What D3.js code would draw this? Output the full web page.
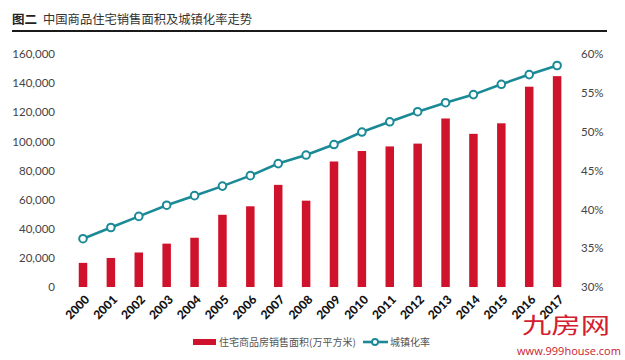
<!DOCTYPE html>
<html>
<head>
<meta charset="utf-8">
<script src="https://cdn.jsdelivr.net/npm/d3@7/dist/d3.min.js"></script>
<style>
  html, body { margin: 0; padding: 0; background: #fff; }
  svg { display: block; }
</style>
</head>
<body>
<svg id="chart" width="625" height="360"></svg>
<script>
const years = ["2000","2001","2002","2003","2004","2005","2006","2007","2008","2009","2010","2011","2012","2013","2014","2015","2016","2017"];
const salesArea = [16570, 19939, 23702, 29779, 33820, 49588, 55423, 70136, 59280, 86185, 93377, 96528, 98468, 115723, 105188, 112412, 137540, 144789];
const urbanRate = [36.22, 37.66, 39.09, 40.53, 41.76, 42.99, 44.34, 45.89, 46.99, 48.34, 49.95, 51.27, 52.57, 53.73, 54.77, 56.10, 57.35, 58.52];
const leftTicks = [0, 20000, 40000, 60000, 80000, 100000, 120000, 140000, 160000];
const rightTicks = [30, 35, 40, 45, 50, 55, 60];
const titleBold = "图二";
const titleText = "中国商品住宅销售面积及城镇化率走势";
const legendBar = "住宅商品房销售面积(万平方米)";
const legendLine = "城镇化率";

const RED = "#d0132c";
const TEAL = "#1a8a96";
const CJK = "'Noto Sans CJK SC', sans-serif";
const LAT = "Lato, 'Noto Sans', sans-serif";

const svg = d3.select("#chart");

// title
svg.append("text").attr("x", 12).attr("y", 24)
  .attr("font-family", CJK).attr("font-size", 12.5).attr("font-weight", 700).attr("fill", "#222")
  .text(titleBold);
svg.append("text").attr("x", 43).attr("y", 24)
  .attr("font-family", CJK).attr("font-size", 12.3).attr("fill", "#333")
  .text(titleText);
svg.append("line").attr("x1", 12).attr("x2", 607).attr("y1", 31).attr("y2", 31)
  .attr("stroke", "#1a1a1a").attr("stroke-width", 2);

// scales
const x = d3.scaleBand().domain(years).range([69.05, 571.05]).padding(0);
const yL = d3.scaleLinear().domain([0, 160000]).range([287, 54]);
const yR = d3.scaleLinear().domain([30, 60]).range([287, 54]);
const cx = d => x(d) + x.bandwidth() / 2;
const barW = 8.5;

// left axis
const leftAxis = d3.axisLeft(yL).tickValues(leftTicks).tickSize(0).tickPadding(0)
  .tickFormat(d3.format(","));
const gL = svg.append("g").attr("transform", "translate(55,0)").call(leftAxis);
gL.select(".domain").remove();
gL.selectAll("text").attr("font-family", LAT).attr("font-size", 11.5).attr("fill", "#444");

// right axis
const rightAxis = d3.axisRight(yR).tickValues(rightTicks).tickSize(0).tickPadding(0)
  .tickFormat(d => d + "%");
const gR = svg.append("g").attr("transform", "translate(581,0)").call(rightAxis);
gR.select(".domain").remove();
gR.selectAll("text").attr("font-family", LAT).attr("font-size", 11.5).attr("fill", "#444");

// bars
svg.append("g").selectAll("rect").data(years).join("rect")
  .attr("x", d => cx(d) - barW / 2)
  .attr("width", barW)
  .attr("y", (d, i) => yL(salesArea[i]))
  .attr("height", (d, i) => yL(0) - yL(salesArea[i]))
  .attr("fill", RED);

// line
const line = d3.line().x((d, i) => cx(years[i])).y(d => yR(d));
svg.append("path").datum(urbanRate).attr("d", line)
  .attr("fill", "none").attr("stroke", TEAL).attr("stroke-width", 2.6);
svg.append("g").selectAll("circle").data(urbanRate).join("circle")
  .attr("cx", (d, i) => cx(years[i])).attr("cy", d => yR(d)).attr("r", 3.8)
  .attr("fill", "#fff").attr("stroke", TEAL).attr("stroke-width", 2);

// x axis labels
const xAxis = d3.axisBottom(x).tickSize(0).tickPadding(0);
const gX = svg.append("g").attr("transform", "translate(0,296)").call(xAxis);
gX.select(".domain").remove();
gX.selectAll("text")
  .attr("font-family", LAT).attr("font-size", 12).attr("font-weight", 900).attr("fill", "#111")
  .attr("text-anchor", "end").attr("dy", "0.35em").attr("x", 2).attr("y", 4)
  .attr("transform", "rotate(-45)");

// legend
svg.append("rect").attr("x", 193).attr("y", 339).attr("width", 23).attr("height", 6).attr("fill", RED);
svg.append("text").attr("x", 219).attr("y", 346)
  .attr("font-family", CJK).attr("font-size", 10).attr("fill", "#555").text(legendBar);
svg.append("line").attr("x1", 363).attr("x2", 388).attr("y1", 342).attr("y2", 342)
  .attr("stroke", TEAL).attr("stroke-width", 2.6);
svg.append("circle").attr("cx", 375).attr("cy", 342).attr("r", 3)
  .attr("fill", "#fff").attr("stroke", TEAL).attr("stroke-width", 1.8);
svg.append("text").attr("x", 390).attr("y", 346)
  .attr("font-family", CJK).attr("font-size", 10).attr("fill", "#555").text(legendLine);

// watermark
svg.append("text").attr("x", 566).attr("y", 333).attr("text-anchor", "middle")
  .attr("font-family", CJK).attr("font-size", 22).attr("font-weight", 400).attr("fill", "#d3202f")
  .attr("textLength", 88).attr("lengthAdjust", "spacingAndGlyphs")
  .text("九房网");
svg.append("text").attr("x", 569).attr("y", 355).attr("text-anchor", "middle")
  .attr("font-family", "'Open Sans', sans-serif").attr("font-size", 11).attr("fill", "#c8202e")
  .text("www.999house.com");
</script>
</body>
</html>
